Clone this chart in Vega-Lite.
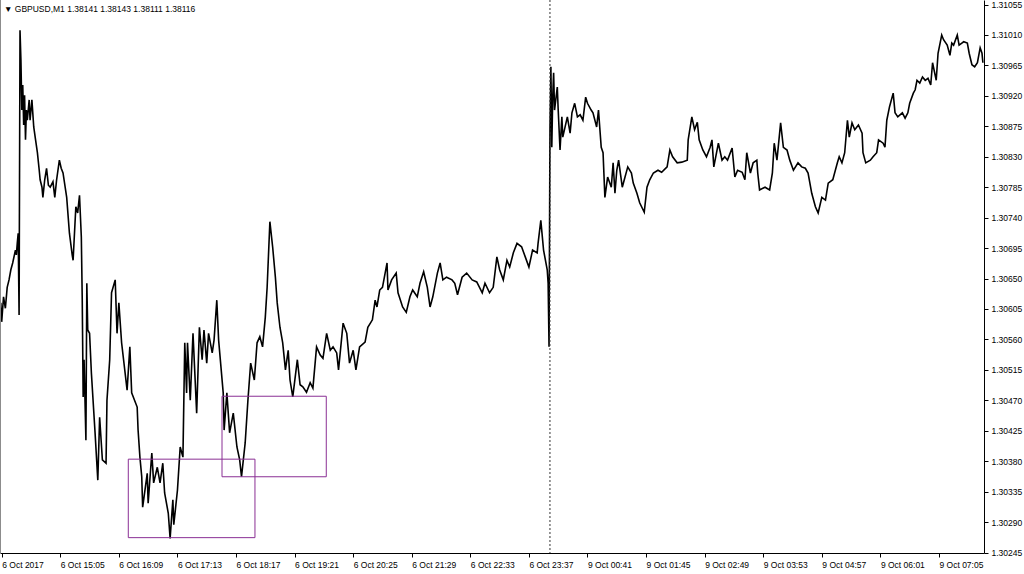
{
  "$schema": "https://vega.github.io/schema/vega-lite/v6.json",
  "width": 984,
  "height": 553,
  "autosize": {"type": "none"},
  "padding": {"left": 0, "top": 0, "right": 40, "bottom": 21},
  "background": "white",
  "config": {
    "view": {"stroke": null},
    "font": "Liberation Sans",
    "axis": {
      "labelFont": "Liberation Sans",
      "labelFontSize": 8.5,
      "labelColor": "#000000",
      "domainColor": "#000000",
      "tickColor": "#000000",
      "grid": false,
      "labelOverlap": false
    }
  },
  "datasets": {
    "prices": [
      {"bar": -1, "price": 1.30614}, {"bar": 0, "price": 1.30586}, {"bar": 2, "price": 1.30623}, {"bar": 4, "price": 1.30606},
      {"bar": 6, "price": 1.30637}, {"bar": 8, "price": 1.30648}, {"bar": 10, "price": 1.30663}, {"bar": 12, "price": 1.30673},
      {"bar": 15, "price": 1.30692}, {"bar": 16, "price": 1.30685}, {"bar": 17, "price": 1.30702}, {"bar": 18, "price": 1.30717},
      {"bar": 19, "price": 1.30596}, {"bar": 20, "price": 1.31017}, {"bar": 21, "price": 1.30973}, {"bar": 22, "price": 1.30899},
      {"bar": 23, "price": 1.30936}, {"bar": 24, "price": 1.30877}, {"bar": 25, "price": 1.30921}, {"bar": 26, "price": 1.30855},
      {"bar": 27, "price": 1.30899}, {"bar": 28, "price": 1.30884}, {"bar": 30, "price": 1.30914}, {"bar": 31, "price": 1.30884},
      {"bar": 33, "price": 1.30914}, {"bar": 35, "price": 1.30874}, {"bar": 37, "price": 1.30855}, {"bar": 39, "price": 1.30836},
      {"bar": 41, "price": 1.3081}, {"bar": 42, "price": 1.30796}, {"bar": 44, "price": 1.30785}, {"bar": 45, "price": 1.3077},
      {"bar": 47, "price": 1.30796}, {"bar": 49, "price": 1.30813}, {"bar": 51, "price": 1.30788}, {"bar": 53, "price": 1.30785},
      {"bar": 56, "price": 1.30793}, {"bar": 58, "price": 1.3077}, {"bar": 60, "price": 1.30796}, {"bar": 63, "price": 1.30825},
      {"bar": 65, "price": 1.30813}, {"bar": 67, "price": 1.30806}, {"bar": 71, "price": 1.3077}, {"bar": 74, "price": 1.30717},
      {"bar": 77, "price": 1.30685}, {"bar": 78, "price": 1.30677}, {"bar": 81, "price": 1.30756}, {"bar": 83, "price": 1.30747},
      {"bar": 85, "price": 1.30773}, {"bar": 87, "price": 1.30711}, {"bar": 88, "price": 1.30618}, {"bar": 89, "price": 1.30475},
      {"bar": 90, "price": 1.3053}, {"bar": 92, "price": 1.30411}, {"bar": 93, "price": 1.30643}, {"bar": 94, "price": 1.30574},
      {"bar": 96, "price": 1.30569}, {"bar": 98, "price": 1.3051}, {"bar": 102, "price": 1.30422}, {"bar": 105, "price": 1.30352},
      {"bar": 107, "price": 1.30445}, {"bar": 110, "price": 1.30382}, {"bar": 114, "price": 1.30377}, {"bar": 115, "price": 1.3047},
      {"bar": 118, "price": 1.3053}, {"bar": 120, "price": 1.30629}, {"bar": 124, "price": 1.30648}, {"bar": 126, "price": 1.30569},
      {"bar": 128, "price": 1.30614}, {"bar": 131, "price": 1.30555}, {"bar": 137, "price": 1.30485}, {"bar": 140, "price": 1.30549},
      {"bar": 142, "price": 1.30481}, {"bar": 148, "price": 1.3046}, {"bar": 149, "price": 1.30426}, {"bar": 151, "price": 1.30386},
      {"bar": 153, "price": 1.30357}, {"bar": 154, "price": 1.30312}, {"bar": 159, "price": 1.30362}, {"bar": 160, "price": 1.30318},
      {"bar": 164, "price": 1.30392}, {"bar": 166, "price": 1.30348}, {"bar": 170, "price": 1.30371}, {"bar": 173, "price": 1.30348},
      {"bar": 176, "price": 1.30377}, {"bar": 178, "price": 1.30333}, {"bar": 182, "price": 1.30303}, {"bar": 184, "price": 1.30266},
      {"bar": 187, "price": 1.30323}, {"bar": 188, "price": 1.30286}, {"bar": 192, "price": 1.30337}, {"bar": 195, "price": 1.30401},
      {"bar": 198, "price": 1.30386}, {"bar": 200, "price": 1.30555}, {"bar": 202, "price": 1.30481}, {"bar": 203, "price": 1.30555},
      {"bar": 206, "price": 1.3047}, {"bar": 209, "price": 1.30569}, {"bar": 213, "price": 1.30451}, {"bar": 216, "price": 1.30578},
      {"bar": 219, "price": 1.3053}, {"bar": 221, "price": 1.30574}, {"bar": 224, "price": 1.30525}, {"bar": 226, "price": 1.30569},
      {"bar": 230, "price": 1.3054}, {"bar": 232, "price": 1.30559}, {"bar": 235, "price": 1.30618}, {"bar": 237, "price": 1.30559},
      {"bar": 242, "price": 1.30481}, {"bar": 243, "price": 1.30426}, {"bar": 246, "price": 1.30481}, {"bar": 249, "price": 1.30422},
      {"bar": 253, "price": 1.30451}, {"bar": 257, "price": 1.30401}, {"bar": 260, "price": 1.30382}, {"bar": 262, "price": 1.30357},
      {"bar": 266, "price": 1.30407}, {"bar": 269, "price": 1.3047}, {"bar": 272, "price": 1.30525}, {"bar": 276, "price": 1.305},
      {"bar": 279, "price": 1.30555}, {"bar": 282, "price": 1.30564}, {"bar": 285, "price": 1.30549}, {"bar": 288, "price": 1.30593},
      {"bar": 290, "price": 1.30637}, {"bar": 293, "price": 1.30734}, {"bar": 296, "price": 1.30697}, {"bar": 299, "price": 1.30652},
      {"bar": 301, "price": 1.30614}, {"bar": 304, "price": 1.30578}, {"bar": 307, "price": 1.30555}, {"bar": 310, "price": 1.30515},
      {"bar": 313, "price": 1.30544}, {"bar": 315, "price": 1.305}, {"bar": 318, "price": 1.30475}, {"bar": 323, "price": 1.3053},
      {"bar": 326, "price": 1.30493}, {"bar": 329, "price": 1.3049}, {"bar": 333, "price": 1.30482}, {"bar": 337, "price": 1.30496},
      {"bar": 340, "price": 1.30488}, {"bar": 344, "price": 1.30549}, {"bar": 348, "price": 1.30537}, {"bar": 351, "price": 1.30532},
      {"bar": 355, "price": 1.30569}, {"bar": 359, "price": 1.30544}, {"bar": 362, "price": 1.30549}, {"bar": 366, "price": 1.3054},
      {"bar": 368, "price": 1.30515}, {"bar": 373, "price": 1.30584}, {"bar": 377, "price": 1.30569}, {"bar": 380, "price": 1.30525},
      {"bar": 384, "price": 1.30544}, {"bar": 387, "price": 1.30515}, {"bar": 391, "price": 1.30549}, {"bar": 397, "price": 1.30556},
      {"bar": 400, "price": 1.30578}, {"bar": 405, "price": 1.30589}, {"bar": 408, "price": 1.30618}, {"bar": 410, "price": 1.30608},
      {"bar": 413, "price": 1.30633}, {"bar": 416, "price": 1.30637}, {"bar": 421, "price": 1.30673}, {"bar": 422, "price": 1.30633},
      {"bar": 426, "price": 1.30648}, {"bar": 431, "price": 1.30658}, {"bar": 433, "price": 1.30629}, {"bar": 438, "price": 1.30608},
      {"bar": 442, "price": 1.306}, {"bar": 446, "price": 1.30623}, {"bar": 449, "price": 1.30633}, {"bar": 454, "price": 1.30623},
      {"bar": 457, "price": 1.30643}, {"bar": 461, "price": 1.3066}, {"bar": 465, "price": 1.30637}, {"bar": 468, "price": 1.30608},
      {"bar": 471, "price": 1.30623}, {"bar": 476, "price": 1.30658}, {"bar": 479, "price": 1.30673}, {"bar": 482, "price": 1.30648},
      {"bar": 486, "price": 1.30652}, {"bar": 492, "price": 1.30648}, {"bar": 495, "price": 1.30643}, {"bar": 498, "price": 1.30626},
      {"bar": 503, "price": 1.30652}, {"bar": 508, "price": 1.30658}, {"bar": 514, "price": 1.30648}, {"bar": 519, "price": 1.30645},
      {"bar": 525, "price": 1.30629}, {"bar": 528, "price": 1.30643}, {"bar": 533, "price": 1.30629}, {"bar": 537, "price": 1.30637},
      {"bar": 541, "price": 1.30682}, {"bar": 544, "price": 1.30663}, {"bar": 548, "price": 1.30648}, {"bar": 552, "price": 1.30677},
      {"bar": 555, "price": 1.30667}, {"bar": 559, "price": 1.30688}, {"bar": 563, "price": 1.30702}, {"bar": 568, "price": 1.30697},
      {"bar": 572, "price": 1.30682}, {"bar": 576, "price": 1.30667}, {"bar": 580, "price": 1.30692}, {"bar": 585, "price": 1.30688},
      {"bar": 586, "price": 1.30702}, {"bar": 589, "price": 1.30736}, {"bar": 592, "price": 1.30692}, {"bar": 596, "price": 1.30663},
      {"bar": 597, "price": 1.30643}, {"bar": 598, "price": 1.30549}, {"bar": 599, "price": 1.3087}, {"bar": 600, "price": 1.30963},
      {"bar": 601, "price": 1.30844}, {"bar": 602, "price": 1.30918}, {"bar": 603, "price": 1.30954}, {"bar": 604, "price": 1.30899},
      {"bar": 607, "price": 1.30933}, {"bar": 608, "price": 1.30899}, {"bar": 610, "price": 1.3084}, {"bar": 612, "price": 1.30889},
      {"bar": 613, "price": 1.30859}, {"bar": 618, "price": 1.30889}, {"bar": 621, "price": 1.30865}, {"bar": 623, "price": 1.30895},
      {"bar": 626, "price": 1.30909}, {"bar": 629, "price": 1.30889}, {"bar": 632, "price": 1.30892}, {"bar": 635, "price": 1.30884},
      {"bar": 638, "price": 1.30918}, {"bar": 640, "price": 1.30909}, {"bar": 644, "price": 1.30899}, {"bar": 646, "price": 1.30895},
      {"bar": 650, "price": 1.30874}, {"bar": 652, "price": 1.30899}, {"bar": 655, "price": 1.30844}, {"bar": 657, "price": 1.30836},
      {"bar": 659, "price": 1.3077}, {"bar": 662, "price": 1.308}, {"bar": 666, "price": 1.30785}, {"bar": 668, "price": 1.30821},
      {"bar": 670, "price": 1.30776}, {"bar": 672, "price": 1.3081}, {"bar": 674, "price": 1.30825}, {"bar": 678, "price": 1.30785},
      {"bar": 681, "price": 1.308}, {"bar": 684, "price": 1.30815}, {"bar": 688, "price": 1.30806}, {"bar": 690, "price": 1.30791},
      {"bar": 694, "price": 1.30776}, {"bar": 697, "price": 1.30762}, {"bar": 702, "price": 1.30748}, {"bar": 705, "price": 1.30785},
      {"bar": 708, "price": 1.30796}, {"bar": 712, "price": 1.30806}, {"bar": 717, "price": 1.3081}, {"bar": 721, "price": 1.30807},
      {"bar": 727, "price": 1.30815}, {"bar": 730, "price": 1.3084}, {"bar": 733, "price": 1.3083}, {"bar": 738, "price": 1.30821},
      {"bar": 743, "price": 1.30822}, {"bar": 749, "price": 1.30825}, {"bar": 750, "price": 1.30855}, {"bar": 754, "price": 1.30889},
      {"bar": 757, "price": 1.3087}, {"bar": 760, "price": 1.30881}, {"bar": 762, "price": 1.30855}, {"bar": 766, "price": 1.3084},
      {"bar": 770, "price": 1.3083}, {"bar": 774, "price": 1.30844}, {"bar": 776, "price": 1.30855}, {"bar": 778, "price": 1.30815},
      {"bar": 783, "price": 1.3085}, {"bar": 787, "price": 1.30825}, {"bar": 790, "price": 1.3083}, {"bar": 793, "price": 1.30825},
      {"bar": 798, "price": 1.30843}, {"bar": 801, "price": 1.308}, {"bar": 804, "price": 1.3081}, {"bar": 809, "price": 1.30807},
      {"bar": 812, "price": 1.30796}, {"bar": 814, "price": 1.30836}, {"bar": 818, "price": 1.30806}, {"bar": 821, "price": 1.30821},
      {"bar": 825, "price": 1.30825}, {"bar": 826, "price": 1.30806}, {"bar": 828, "price": 1.30781}, {"bar": 834, "price": 1.30785},
      {"bar": 839, "price": 1.30781}, {"bar": 842, "price": 1.30806}, {"bar": 844, "price": 1.3085}, {"bar": 847, "price": 1.30825},
      {"bar": 851, "price": 1.3088}, {"bar": 854, "price": 1.30844}, {"bar": 858, "price": 1.3084}, {"bar": 861, "price": 1.30825},
      {"bar": 865, "price": 1.3081}, {"bar": 870, "price": 1.30821}, {"bar": 874, "price": 1.30815}, {"bar": 878, "price": 1.30813},
      {"bar": 881, "price": 1.30806}, {"bar": 885, "price": 1.30776}, {"bar": 889, "price": 1.30756}, {"bar": 892, "price": 1.30747},
      {"bar": 896, "price": 1.3077}, {"bar": 900, "price": 1.30766}, {"bar": 903, "price": 1.30791}, {"bar": 908, "price": 1.30796},
      {"bar": 913, "price": 1.30821}, {"bar": 915, "price": 1.3083}, {"bar": 918, "price": 1.30821}, {"bar": 921, "price": 1.30836},
      {"bar": 924, "price": 1.30884}, {"bar": 926, "price": 1.30859}, {"bar": 929, "price": 1.3088}, {"bar": 932, "price": 1.3087},
      {"bar": 936, "price": 1.30877}, {"bar": 940, "price": 1.30865}, {"bar": 941, "price": 1.30836}, {"bar": 944, "price": 1.30821},
      {"bar": 949, "price": 1.30825}, {"bar": 952, "price": 1.3083}, {"bar": 956, "price": 1.30836}, {"bar": 958, "price": 1.30855},
      {"bar": 963, "price": 1.3085}, {"bar": 965, "price": 1.30844}, {"bar": 967, "price": 1.30884}, {"bar": 970, "price": 1.30904},
      {"bar": 974, "price": 1.30924}, {"bar": 976, "price": 1.30895}, {"bar": 979, "price": 1.30889}, {"bar": 984, "price": 1.30895},
      {"bar": 987, "price": 1.30887}, {"bar": 990, "price": 1.30895}, {"bar": 992, "price": 1.30909}, {"bar": 996, "price": 1.30924},
      {"bar": 998, "price": 1.30929}, {"bar": 1000, "price": 1.30943}, {"bar": 1003, "price": 1.30939}, {"bar": 1006, "price": 1.30948},
      {"bar": 1009, "price": 1.30943}, {"bar": 1012, "price": 1.30946}, {"bar": 1015, "price": 1.30936}, {"bar": 1017, "price": 1.30969},
      {"bar": 1021, "price": 1.30943}, {"bar": 1023, "price": 1.30983}, {"bar": 1027, "price": 1.3101}, {"bar": 1029, "price": 1.31003},
      {"bar": 1033, "price": 1.30995}, {"bar": 1036, "price": 1.3098}, {"bar": 1038, "price": 1.30998}, {"bar": 1040, "price": 1.30995},
      {"bar": 1044, "price": 1.3101}, {"bar": 1046, "price": 1.30995}, {"bar": 1049, "price": 1.30998}, {"bar": 1051, "price": 1.31},
      {"bar": 1055, "price": 1.30998}, {"bar": 1057, "price": 1.30983}, {"bar": 1060, "price": 1.30966}, {"bar": 1063, "price": 1.30963},
      {"bar": 1066, "price": 1.30969}, {"bar": 1069, "price": 1.30991}, {"bar": 1071, "price": 1.30983}, {"bar": 1072, "price": 1.30969}
    ],
    "separator": [{"bar": 599}],
    "border": [{"bar": -1.31}],
    "boxes": [
      {"from": 138.3, "to": 276.7, "high": 1.30383, "low": 1.30267},
      {"from": 240.7, "to": 354.6, "high": 1.30476, "low": 1.30357}
    ],
    "header": [
      {"bar": 2.5, "price": 1.31044, "label": "▼  GBPUSD,M1  1.38141 1.38143 1.38111 1.38116"}
    ]
  },
  "layer": [
    {
      "data": {"name": "prices"},
      "mark": {"type": "line", "color": "#000000", "strokeWidth": 1.6, "interpolate": "linear"},
      "encoding": {
        "x": {
          "field": "bar", "type": "quantitative", "title": null,
          "scale": {"domain": [-1.86, 1073.2], "nice": false, "zero": false},
          "axis": {
            "orient": "bottom",
            "values": [0, 64, 128, 192, 256, 320, 384, 448, 512, 576, 640, 704, 768, 832, 896, 960, 1024],
            "tickCount": 40,
            "labelExpr": "['6 Oct 2017','6 Oct 15:05','6 Oct 16:09','6 Oct 17:13','6 Oct 18:17','6 Oct 19:21','6 Oct 20:25','6 Oct 21:29','6 Oct 22:33','6 Oct 23:37','9 Oct 00:41','9 Oct 01:45','9 Oct 02:49','9 Oct 03:53','9 Oct 04:57','9 Oct 06:01','9 Oct 07:05'][round(datum.value/64)]",
            "labelAlign": "left",
            "labelBaseline": "top",
            "labelPadding": 3,
            "tickSize": 4,
            "labelOverlap": false,
            "labelFlush": false
          }
        },
        "y": {
          "field": "price", "type": "quantitative", "title": null,
          "scale": {"domain": [1.302443, 1.310617], "nice": false, "zero": false},
          "axis": {
            "orient": "right",
            "values": [1.30245, 1.3029, 1.30335, 1.3038, 1.30425, 1.3047, 1.30515, 1.3056, 1.30605, 1.3065, 1.30695, 1.3074, 1.30785, 1.3083, 1.30875, 1.3092, 1.30965, 1.3101, 1.31055],
            "tickCount": 40,
            "format": ".5f",
            "labelAlign": "left",
            "labelBaseline": "middle",
            "labelPadding": 3,
            "tickSize": 4,
            "labelOverlap": false,
            "labelFlush": false
          }
        }
      }
    },
    {
      "data": {"name": "separator"},
      "mark": {"type": "rule", "color": "#333333", "strokeWidth": 1, "strokeDash": [2, 2]},
      "encoding": {
        "x": {"field": "bar", "type": "quantitative", "title": null}
      }
    },
    {
      "data": {"name": "border"},
      "mark": {"type": "rule", "color": "#8c8c8c", "strokeWidth": 1},
      "encoding": {
        "x": {"field": "bar", "type": "quantitative", "title": null}
      }
    },
    {
      "data": {"name": "boxes"},
      "mark": {"type": "rect", "fill": null, "fillOpacity": 0, "stroke": "#8A2F94", "strokeWidth": 1},
      "encoding": {
        "x": {"field": "from", "type": "quantitative", "title": null},
        "x2": {"field": "to"},
        "y": {"field": "high", "type": "quantitative", "title": null},
        "y2": {"field": "low"}
      }
    },
    {
      "data": {"name": "header"},
      "mark": {"type": "text", "align": "left", "baseline": "alphabetic", "font": "Liberation Sans", "fontSize": 8.5, "color": "#000000"},
      "encoding": {
        "x": {"field": "bar", "type": "quantitative", "title": null},
        "y": {"field": "price", "type": "quantitative", "title": null},
        "text": {"field": "label"}
      }
    }
  ]
}
